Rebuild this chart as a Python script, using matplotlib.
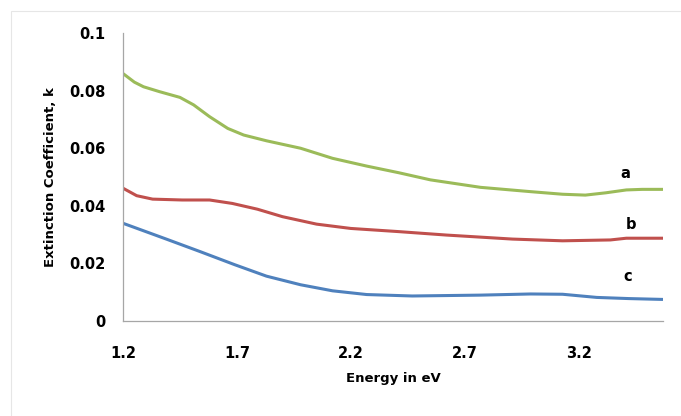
import matplotlib.pyplot as plt
from matplotlib.patches import Rectangle

# energy (eV) and extinction coefficient k
energy_a = [1.20, 1.25, 1.29, 1.36, 1.45, 1.51, 1.58, 1.66, 1.73, 1.83, 1.98, 2.12, 2.27, 2.41,
            2.55, 2.77, 2.99, 3.13, 3.23, 3.32, 3.41, 3.48, 3.571]
k_a = [0.0860, 0.0830, 0.0814, 0.0797, 0.0777, 0.0751, 0.0710, 0.0669, 0.0646, 0.0626, 0.0600, 0.0565,
       0.0538, 0.0515, 0.0490, 0.0464, 0.0449, 0.0440, 0.0437, 0.0445, 0.0455, 0.0457, 0.0457]

energy_b = [1.20, 1.26, 1.33, 1.46, 1.58, 1.68, 1.79, 1.90, 2.05, 2.20, 2.41, 2.62, 2.91, 3.13,
            3.34, 3.41, 3.571]
k_b = [0.0461, 0.0435, 0.0423, 0.0420, 0.0420, 0.0408, 0.0388, 0.0362, 0.0336, 0.0321, 0.0310,
       0.0298, 0.0284, 0.0278, 0.0281, 0.0287, 0.0287]

energy_c = [1.20, 1.39, 1.54, 1.69, 1.83, 1.98, 2.12, 2.27, 2.47, 2.77, 2.99, 3.13, 3.28, 3.42, 3.571]
k_c = [0.0339, 0.0284, 0.0240, 0.0195, 0.0155, 0.0125, 0.0104, 0.0091, 0.0086, 0.0089, 0.0093,
       0.0092, 0.0081, 0.0077, 0.0074]

series_labels = ["a", "b", "c"]
x_ticks = [1.2, 1.7, 2.2, 2.7, 3.2]
y_ticks = [0, 0.02, 0.04, 0.06, 0.08, 0.1]
y_tick_labels = ["0", "0.02", "0.04", "0.06", "0.08", "0.1"]

plt.rcParams["font.family"] = ["DejaVu Sans"]

fig = plt.figure(figsize=(6.81, 4.16), dpi=100)
fig.patches.append(Rectangle((11 / 681, -0.1), 1.2, 1 - 11 / 416 + 0.1, transform=fig.transFigure,
                             fill=False, edgecolor="#e6e6e6", linewidth=0.8))
ax = fig.add_axes([123 / 681, 1 - 320.7 / 416, 540 / 681, 287.4 / 416])

line_kw = dict(linewidth=2.2, solid_joinstyle="round", solid_capstyle="butt")
ax.plot(energy_a, k_a, color="#9BBB59", **line_kw)
ax.plot(energy_b, k_b, color="#C0504D", **line_kw)
ax.plot(energy_c, k_c, color="#4F81BD", **line_kw)

ax.text(3.405, 0.0513, series_labels[0], fontsize=10.5, fontweight="bold", ha="center", va="center")
ax.text(3.43, 0.0336, series_labels[1], fontsize=10.5, fontweight="bold", ha="center", va="center")
ax.text(3.415, 0.0153, series_labels[2], fontsize=10.5, fontweight="bold", ha="center", va="center")

ax.set_xlim(1.2, 3.571)
ax.set_ylim(0, 0.1)
ax.set_xticks(x_ticks)
ax.set_xticklabels([str(v) for v in x_ticks])
ax.set_yticks(y_ticks)
ax.set_yticklabels(y_tick_labels)
ax.tick_params(length=0, labelsize=10.5, pad=12.5)
ax.tick_params(axis="x", pad=18)
for lab in ax.get_xticklabels() + ax.get_yticklabels():
    lab.set_fontweight("bold")

for side in ["top", "right"]:
    ax.spines[side].set_visible(False)
for side in ["left", "bottom"]:
    ax.spines[side].set_color("#a6a6a6")
    ax.spines[side].set_linewidth(0.9)

ax.set_xlabel("Energy in eV", fontsize=9.5, fontweight="bold", labelpad=8)
ax.set_ylabel("Extinction Coefficient, k", fontsize=9.5, fontweight="bold", labelpad=9)

fig.savefig("out.png", dpi=100)
